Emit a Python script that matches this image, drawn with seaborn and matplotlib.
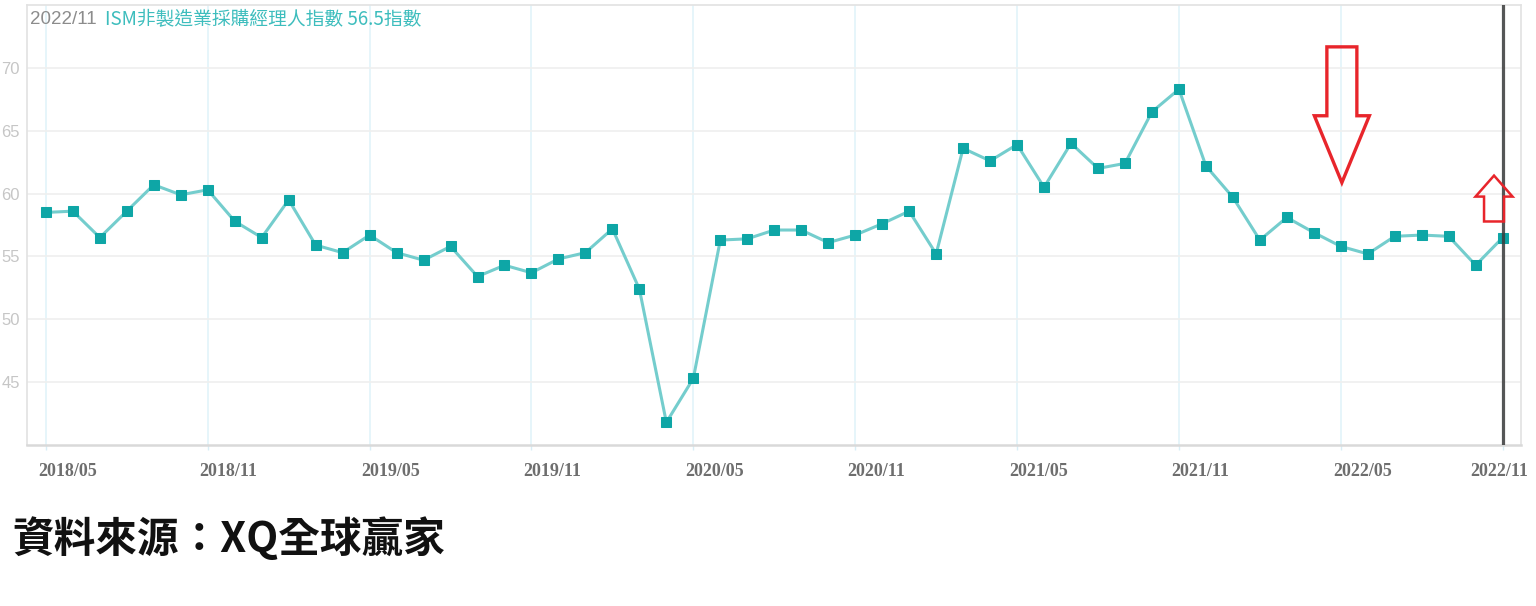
import numpy as np
import pandas as pd
import matplotlib
matplotlib.use("Agg")
import matplotlib.pyplot as plt
import matplotlib.transforms as mtransforms
from matplotlib.patches import Polygon
import seaborn as sns

# ---------------- data ----------------
months = [p.strftime("%Y/%m") for p in pd.period_range("2018-05", "2022-11", freq="M")]
values = [58.5, 58.6, 56.5, 58.6, 60.7, 59.9, 60.3, 57.8, 56.5, 59.5,
          55.9, 55.3, 56.7, 55.3, 54.7, 55.8, 53.4, 54.3, 53.7, 54.8,
          55.3, 57.2, 52.4, 41.8, 45.3, 56.3, 56.4, 57.1, 57.1, 56.1,
          56.7, 57.6, 58.6, 55.2, 63.6, 62.6, 63.9, 60.5, 64.0, 62.0,
          62.4, 66.5, 68.3, 62.2, 59.7, 56.3, 58.1, 56.9, 55.8, 55.2,
          56.6, 56.7, 56.6, 54.3, 56.5]
tick_months = ["2018/05", "2018/11", "2019/05", "2019/11", "2020/05",
               "2020/11", "2021/05", "2021/11", "2022/05", "2022/11"]
y_ticks = [45, 50, 55, 60, 65, 70]
title_date = "2022/11"
title_text = "ISM非製造業採購經理人指數 56.5指數"
source_text = "資料來源：XQ全球贏家"

# ---------------- style ----------------
sns.set_theme(style="white")
plt.rcParams["font.family"] = ["Noto Sans CJK TC", "DejaVu Sans"]

W, H = 1536, 606
fig = plt.figure(figsize=(W / 100, H / 100), dpi=100)
ax = fig.add_axes([27 / W, 1 - 445 / H, (1521 - 27) / W, (445 - 5) / H])

df = pd.DataFrame({"month": months, "value": values})
df["pos"] = np.arange(len(df))

sns.lineplot(data=df, x="pos", y="value", ax=ax, color="#74cdcd", linewidth=2.2,
             marker="s", markersize=7.3, markerfacecolor="#0ea6a6",
             markeredgecolor="#0ea6a6", zorder=3)

ax.set_xlim(-0.70, 54.68)
ax.set_ylim(40, 75)
ax.set_xlabel("")
ax.set_ylabel("")

tick_pos = [months.index(m) for m in tick_months]
ax.set_xticks(tick_pos)
ax.set_xticklabels(tick_months, fontfamily="Liberation Serif", fontweight="bold",
                   color="#6e6e6e", fontsize=13)
ax.set_yticks(y_ticks)
ax.set_yticklabels([str(v) for v in y_ticks], fontfamily="Liberation Sans",
                   color="#c6c6c6", fontsize=12)

ax.tick_params(axis="x", length=3.6, width=1, color="#d8eef6", pad=9, bottom=True)
ax.tick_params(axis="y", length=0, pad=5, left=False)

labels = ax.get_xticklabels()
for i, lbl in enumerate(labels):
    if i < len(labels) - 1:
        lbl.set_horizontalalignment("left")
        lbl.set_transform(lbl.get_transform() +
                          mtransforms.ScaledTranslation(-8 / 100, 0, fig.dpi_scale_trans))
    else:
        lbl.set_horizontalalignment("right")
        lbl.set_transform(lbl.get_transform() +
                          mtransforms.ScaledTranslation(25 / 100, 0, fig.dpi_scale_trans))

ax.yaxis.grid(True, color="#efefef", linewidth=1.2)
ax.xaxis.grid(True, color="#e2f3fa", linewidth=1.2)
ax.set_axisbelow(True)

for side in ["left", "right", "top"]:
    ax.spines[side].set_color("#e2e2e2")
    ax.spines[side].set_linewidth(1.2)
ax.spines["bottom"].set_color("#d9d9d9")
ax.spines["bottom"].set_linewidth(1.8)

# current-month cursor line
ax.axvline(months.index("2022/11"), color="#3a3a3a", alpha=0.85, linewidth=2.3, zorder=4)

# red outline arrows (annotations)
red = "#e8252b"

def down_arrow(cx, top, shoulder, tip, sw, hw):
    return [(cx - sw, top), (cx + sw, top), (cx + sw, shoulder), (cx + hw, shoulder),
            (cx, tip), (cx - hw, shoulder), (cx - sw, shoulder)]

def up_arrow(cx, bottom, shoulder, tip, sw, hw):
    return [(cx - sw, bottom), (cx + sw, bottom), (cx + sw, shoulder), (cx + hw, shoulder),
            (cx, tip), (cx - hw, shoulder), (cx - sw, shoulder)]

big = Polygon(down_arrow(48.04, 71.67, 66.19, 60.87, 0.556, 1.02), closed=True,
              fill=False, edgecolor=red, linewidth=2.4, joinstyle="miter", zorder=5)
small = Polygon(up_arrow(53.68, 57.78, 59.76, 61.43, 0.37, 0.686), closed=True,
                fill=False, edgecolor=red, linewidth=1.8, joinstyle="miter", zorder=5,
                clip_on=False)
ax.add_patch(big)
ax.add_patch(small)

# title inside plot
ax.text(0.002, 0.966, title_date, transform=ax.transAxes, color="#8c8c8c",
        fontsize=13.5, family=["Liberation Sans", "DejaVu Sans"], va="center", ha="left")
ax.text((105 - 27) / 1494, 0.966, title_text, transform=ax.transAxes, color="#3dbdbd",
        fontsize=13.5, family=["Noto Sans CJK TC", "DejaVu Sans"], va="center", ha="left")

# source text
fig.text(12 / W, 1 - 539 / H, source_text, fontsize=30, color="#111111",
         family=["Noto Sans CJK TC", "DejaVu Sans"], fontweight="bold",
         va="center", ha="left")

fig.savefig("out.png", dpi=100)
